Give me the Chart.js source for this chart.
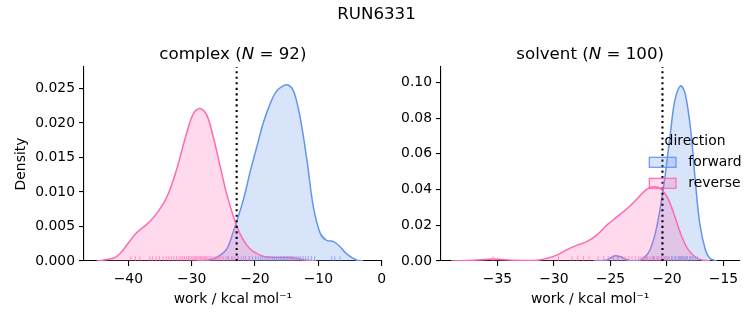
<!DOCTYPE html>
<html>
<head>
<meta charset="utf-8">
<script src="https://cdn.jsdelivr.net/npm/chart.js@4.4.1/dist/chart.umd.min.js"></script>
<style>
  html, body { margin: 0; padding: 0; background: #fff; }
  #wrap { position: relative; width: 753px; height: 325px; }
  #wrap canvas { position: absolute; left: 0; top: 0; }
</style>
</head>
<body>
<div id="wrap">
  <canvas id="complexChart" width="753" height="325"></canvas>
  <canvas id="solventChart" width="753" height="325"></canvas>
</div>
<script>
// KDE curves: [work, density]
const complexForwardKde = [
  [-29.2, 0], [-27.6, 0.0001], [-26.1, 0.0005], [-24.5, 0.0017], [-23.4, 0.0043], [-22.9, 0.0057],
  [-21.8, 0.0090], [-20.8, 0.0128], [-19.7, 0.0166], [-18.7, 0.0200], [-17.6, 0.0228], [-16.6, 0.0246],
  [-15.5, 0.0254], [-14.8, 0.0255], [-13.9, 0.0246], [-12.9, 0.0209], [-11.8, 0.0146], [-10.8, 0.0079],
  [-9.7, 0.0040], [-8.7, 0.0030], [-7.6, 0.0028], [-6.6, 0.0021], [-5.5, 0.0010], [-3.9, 0.0001], [-2.9, 0]
]
const complexReverseKde = [
  [-45.0, 0], [-42.4, 0.0004], [-41.3, 0.0011], [-40.0, 0.0026], [-38.7, 0.0041], [-37.1, 0.0053],
  [-35.5, 0.0069], [-33.9, 0.0093], [-32.4, 0.0132], [-30.8, 0.0185], [-29.7, 0.0214], [-28.7, 0.0221],
  [-27.6, 0.0211], [-26.6, 0.0180], [-25.5, 0.0137], [-24.5, 0.0098], [-23.4, 0.0064], [-22.4, 0.0040],
  [-21.3, 0.0023], [-20.3, 0.0014], [-18.7, 0.0007], [-16.6, 0.0005], [-14.5, 0.0005], [-11.8, 0.0001], [-10.3, 0]
]
const solventForwardKde = [
  [-26.5, 0], [-25.3, 0.0006], [-24.7, 0.0028], [-24.1, 0.0024], [-23.5, 0.0006], [-22.6, 0.0002],
  [-22.1, 0.0015], [-21.5, 0.0062], [-20.9, 0.0192], [-20.3, 0.0416], [-19.7, 0.0715], [-19.3, 0.0901],
  [-18.8, 0.0981], [-18.4, 0.0939], [-17.9, 0.0733], [-17.5, 0.0453], [-17.1, 0.0211], [-16.6, 0.0062],
  [-16.2, 0.0015], [-15.6, 0]
]
const solventReverseKde = [
  [-39.1, 0], [-37.1, 0.0004], [-35.3, 0.0011], [-33.5, 0.0004], [-31.5, 0.0004], [-30.6, 0.0015],
  [-29.7, 0.0034], [-28.8, 0.0065], [-27.9, 0.0090], [-27.1, 0.0108], [-26.2, 0.0146], [-25.3, 0.0202],
  [-24.4, 0.0248], [-23.5, 0.0295], [-22.6, 0.0351], [-21.8, 0.0401], [-21.2, 0.0416], [-20.6, 0.0407],
  [-20.0, 0.0360], [-19.4, 0.0267], [-18.8, 0.0155], [-18.2, 0.0071], [-17.6, 0.0028], [-17.1, 0.0009], [-16.2, 0]
]

// individual work values (rug)
const complexForwardWork = [-24.3, -23.6, -22.8, -22.1, -21.5, -20.9, -20.4, -19.9, -19.5, -19.1, -18.8, -18.4,
  -18.1, -17.8, -17.5, -17.2, -16.9, -16.6, -16.3, -16.0, -15.8, -15.5, -15.3, -15.0, -14.8, -14.5, -14.3, -14.0,
  -13.7, -13.4, -13.1, -12.8, -12.4, -12.0, -11.6, -11.1, -10.6, -7.9, -7.4, -6.6]
const complexReverseWork = [-39.6, -38.9, -38.2, -36.6, -36.2, -35.6, -35.1, -34.5, -34.0, -33.6, -33.2, -32.8,
  -32.4, -32.0, -31.7, -31.4, -31.1, -30.8, -30.5, -30.3, -30.0, -29.8, -29.6, -29.4, -29.2, -29.0, -28.8, -28.6,
  -28.4, -28.2, -28.0, -27.8, -27.6, -27.4, -27.1, -26.9, -26.6, -26.3, -26.0, -25.7, -25.4, -25.0, -24.6, -24.2,
  -23.7, -23.2, -22.6, -21.8, -20.9, -14.2]
const solventForwardWork = [-24.7, -24.3, -21.8, -21.2, -20.8, -20.5, -20.2, -20.0, -19.8, -19.6, -19.5, -19.3,
  -19.2, -19.0, -18.9, -18.8, -18.7, -18.6, -18.5, -18.4, -18.3, -18.2, -18.0, -17.9, -17.7, -17.5, -17.3]
const solventReverseWork = [-35.4, -29.6, -28.4, -27.9, -27.4, -26.9, -26.1, -25.6, -25.2, -24.8, -24.4, -24.0,
  -23.7, -23.4, -23.1, -22.8, -22.5, -22.3, -22.1, -21.9, -21.7, -21.5, -21.3, -21.1, -20.9, -20.7, -20.5, -20.3,
  -20.1, -19.9, -19.6, -19.3, -19.0, -18.6, -18.2, -17.8]

// dotted line (free energy estimate)
const complexDeltaG = -22.9
const solventDeltaG = -20.4

// tick labels
const complexXTicks = [-40, -30, -20, -10, 0]
const complexYTicks = [0, 0.005, 0.010, 0.015, 0.020, 0.025]
const solventXTicks = [-35, -30, -25, -20, -15]
const solventYTicks = [0, 0.02, 0.04, 0.06, 0.08, 0.10]

const directions = ["forward", "reverse"]

const BLUE = "#6495ED"
const PINK = "#FF69B4"
const BLUE_FILL = "rgba(100, 149, 237, 0.25)"
const PINK_FILL = "rgba(255, 105, 180, 0.25)"
const FONT = "'DejaVu Sans', sans-serif"

function fmt(v, dec) {
  const s = Math.abs(v).toFixed(dec)
  return v < 0 ? "\u2212" + s : s
}

function drawParts(ctx, parts, cx, y) {
  let total = 0
  parts.forEach((p) => {
    ctx.font = p.font
    p.w = ctx.measureText(p.text).width
    total += p.w
  })
  let x = cx - total / 2
  ctx.textAlign = "left"
  ctx.textBaseline = "alphabetic"
  ctx.fillStyle = "#000"
  parts.forEach((p) => {
    ctx.font = p.font
    ctx.fillText(p.text, x, y)
    x += p.w
  })
}

// rug, dotted line, titles and legend
const extrasPlugin = {
  id: "extras",
  afterDatasetsDraw(chart, args, opts) {
    const { ctx, chartArea } = chart
    const xs = chart.scales.x
    const h = (chartArea.bottom - chartArea.top) * 0.025
    ctx.save()
    ctx.lineWidth = 1
    opts.rugs.forEach((rug) => {
      ctx.strokeStyle = rug.color
      rug.values.forEach((v) => {
        const px = xs.getPixelForValue(v)
        ctx.beginPath()
        ctx.moveTo(px, chartArea.bottom)
        ctx.lineTo(px, chartArea.bottom - h)
        ctx.stroke()
      })
    })
    const gx = xs.getPixelForValue(opts.deltaG)
    ctx.strokeStyle = "#000"
    ctx.lineWidth = 2.08
    ctx.setLineDash([2.08, 3.44])
    ctx.beginPath()
    ctx.moveTo(gx, chartArea.bottom)
    ctx.lineTo(gx, chartArea.top)
    ctx.stroke()
    ctx.restore()
  },
  afterDraw(chart, args, opts) {
    const { ctx, chartArea } = chart
    ctx.save()
    const cx = (chartArea.left + chartArea.right) / 2
    drawParts(ctx, [
      { text: opts.name + " (", font: "16.67px " + FONT },
      { text: "N", font: "italic 16.67px " + FONT },
      { text: " = " + opts.n + ")", font: "16.67px " + FONT }
    ], cx, 59)
    if (opts.suptitle) {
      drawParts(ctx, [{ text: opts.suptitle, font: "16.67px " + FONT }], chart.width / 2, 19)
    }
    if (opts.legend) {
      ctx.font = "13.9px " + FONT
      ctx.fillStyle = "#000"
      ctx.textBaseline = "middle"
      ctx.textAlign = "center"
      ctx.fillText("direction", 695, 141)
      const fills = [BLUE_FILL, PINK_FILL]
      const lines = [BLUE, PINK]
      directions.forEach((d, i) => {
        const y = 157.3 + i * 21
        ctx.fillStyle = fills[i]
        ctx.fillRect(649.3, y, 26.7, 10)
        ctx.strokeStyle = lines[i]
        ctx.lineWidth = 1.2
        ctx.strokeRect(649.3, y, 26.7, 10)
        ctx.fillStyle = "#000"
        ctx.textAlign = "left"
        ctx.fillText(d, 688.3, y + 4.6)
      })
    }
    ctx.restore()
  }
}

function kdeSet(points, line, fill) {
  return {
    data: points.map(([x, y]) => ({ x, y })),
    borderColor: line,
    backgroundColor: fill,
    fill: "origin",
    borderWidth: 1.5,
    pointRadius: 0,
    tension: 0.35
  }
}

function axisCommon() {
  return {
    grid: { display: true, drawOnChartArea: false, drawTicks: true, tickLength: 5, color: "#000", lineWidth: 1.1 },
    border: { display: true, color: "#000", width: 1.1 }
  }
}

function makeChart(id, cfg) {
  return new Chart(document.getElementById(id), {
    type: "line",
    data: {
      datasets: [
        kdeSet(cfg.reverse, PINK, PINK_FILL),
        kdeSet(cfg.forward, BLUE, BLUE_FILL)
      ]
    },
    options: {
      responsive: false,
      animation: false,
      events: [],
      layout: { padding: cfg.padding },
      plugins: {
        legend: { display: false },
        tooltip: { enabled: false },
        extras: cfg.extras
      },
      scales: {
        x: {
          type: "linear",
          min: cfg.xMin,
          max: cfg.xMax,
          ...axisCommon(),
          afterBuildTicks: (s) => { s.ticks = cfg.xTicks.map((v) => ({ value: v })) },
          afterFit: (s) => { s.height = 64 },
          ticks: {
            color: "#000", font: { family: FONT, size: 13.9 }, padding: 5, maxRotation: 0, autoSkip: false,
            callback: (v) => fmt(v, 0)
          },
          title: {
            display: true, text: "work / kcal mol\u207B\u00B9", color: "#000",
            font: { family: FONT, size: 13.9 }, padding: { top: 0, bottom: 17.7 }
          }
        },
        y: {
          type: "linear",
          min: 0,
          max: cfg.yMax,
          ...axisCommon(),
          afterBuildTicks: (s) => { s.ticks = cfg.yTicks.map((v) => ({ value: v })) },
          afterFit: (s) => { s.width = cfg.yWidth },
          ticks: {
            color: "#000", font: { family: FONT, size: 13.9 }, padding: 4, autoSkip: false,
            callback: (v) => fmt(v, cfg.yDec)
          },
          title: {
            display: cfg.yTitle, text: "Density", color: "#000",
            font: { family: FONT, size: 13.9 }, padding: { top: 12.7, bottom: 0 }
          }
        }
      }
    },
    plugins: [extrasPlugin]
  })
}

makeChart("complexChart", {
  forward: complexForwardKde,
  reverse: complexReverseKde,
  xMin: -47, xMax: 0, yMax: 0.0281,
  xTicks: complexXTicks, yTicks: complexYTicks, yDec: 3,
  yWidth: 84, yTitle: true,
  padding: { left: 0, right: 371.3, top: 67, bottom: 0 },
  extras: {
    name: "complex", n: 92, suptitle: "RUN6331", deltaG: complexDeltaG,
    rugs: [
      { values: complexForwardWork, color: "rgba(100, 149, 237, 0.65)" },
      { values: complexReverseWork, color: "rgba(255, 105, 180, 0.65)" }
    ]
  }
})

makeChart("solventChart", {
  forward: solventForwardKde,
  reverse: solventReverseKde,
  xMin: -40.0, xMax: -13.6, yMax: 0.1086,
  xTicks: solventXTicks, yTicks: solventYTicks, yDec: 2,
  yWidth: 61, yTitle: false,
  padding: { left: 380, right: 13.7, top: 67, bottom: 0 },
  extras: {
    name: "solvent", n: 100, deltaG: solventDeltaG, legend: true,
    rugs: [
      { values: solventForwardWork, color: "rgba(100, 149, 237, 0.65)" },
      { values: solventReverseWork, color: "rgba(255, 105, 180, 0.65)" }
    ]
  }
})
</script>
</body>
</html>
